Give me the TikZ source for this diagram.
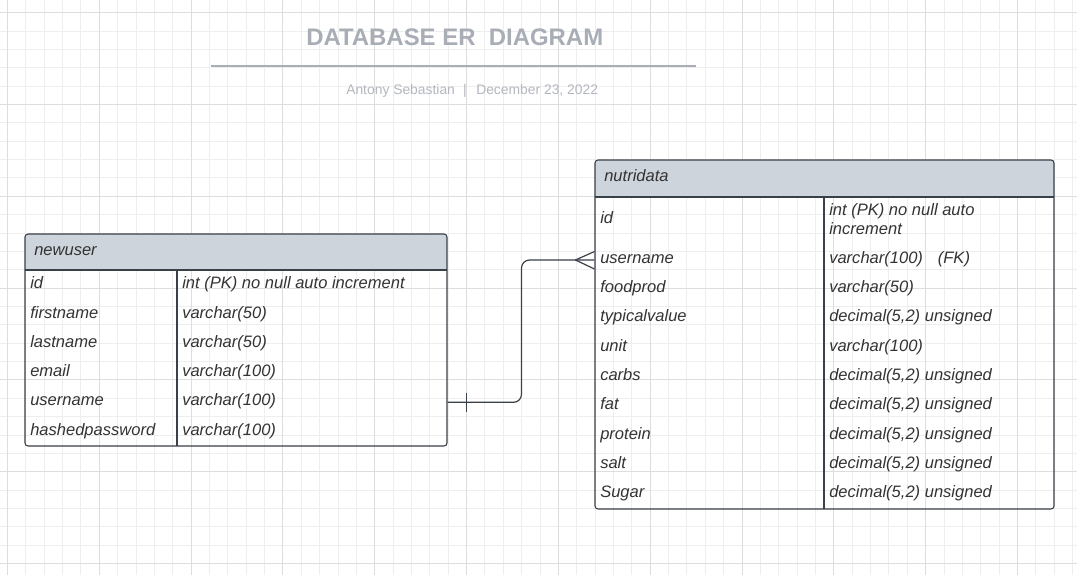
\documentclass[tikz,border=0pt]{standalone}
\usepackage{fontspec}
\setmainfont{Liberation Sans}
\usetikzlibrary{calc,fit}
\definecolor{gridminor}{HTML}{EEEEEE}
\definecolor{gridmajor}{HTML}{DDDDDD}
\definecolor{titlegray}{HTML}{A8ADB6}
\definecolor{subgray}{HTML}{B3B7BF}
\definecolor{headfill}{HTML}{CED4DB}
\definecolor{border}{HTML}{3A4048}
\definecolor{txt}{HTML}{333333}
\begin{document}
\begin{tikzpicture}[x=0.75pt,y=-0.75pt,
  cell/.style={anchor=base west, inner sep=0, text=txt, font=\fontsize{12.4}{14.25}\selectfont\itshape},
  tablebox/.style={draw=border, line width=0.8pt, rounded corners=2.25pt, inner sep=0},
  rulel/.style={draw=border, line width=0.8pt},
  conn/.style={draw=border, line width=0.9pt},
  minorl/.style={draw=gridminor, line width=0.75pt},
  majorl/.style={draw=gridmajor, line width=0.75pt},
  titletext/.style={anchor=base west, inner sep=0, text=titlegray, font=\fontsize{17.95}{20}\selectfont\bfseries},
  subtext/.style={anchor=base west, inner sep=0, text=subgray, font=\fontsize{10.4}{12}\selectfont}]
\useasboundingbox (0,0) rectangle (1077,575);
\fill[white] (0,0) rectangle (1077,575);
% grid
\foreach \i in {0,...,58}{
  \pgfmathsetmacro\gx{7.5+18.364*\i}
  \draw[minorl] (\gx,0) -- (\gx,575);
}
\foreach \i in {0,...,30}{
  \pgfmathsetmacro\gy{12.7+18.364*\i}
  \draw[minorl] (0,\gy) -- (1077,\gy);
}
\foreach \i in {0,...,11}{
  \pgfmathsetmacro\gx{7.5+91.82*\i}
  \draw[majorl] (\gx,0) -- (\gx,575);
}
\foreach \i in {0,...,6}{
  \pgfmathsetmacro\gy{12.7+91.82*\i}
  \draw[majorl] (0,\gy) -- (1077,\gy);
}
% title
\node[titletext] (title) at (306,45) {DATABASE ER~ DIAGRAM};
\draw[titlegray, line width=1.5pt] (211,66) -- (696,66);
\node[subtext] (author) at (346,94.3) {Antony Sebastian};
\node[subtext, anchor=base] (sep) at (465,94.3) {|};
\node[subtext] (date) at (476,94.3) {December 23, 2022};

% newuser table
\begin{scope}
  \clip[rounded corners=2.25pt] (25,234) rectangle (447,446);
  \fill[headfill] (25,234) rectangle (447,270);
\end{scope}
\coordinate (nuTL) at (25,234);
\coordinate (nuBR) at (447,446);
\node[tablebox, fit=(nuTL)(nuBR)] (newuser) {};
\draw[rulel] (25,270) -- (447,270);
\draw[rulel] (177,270) -- (177,446);
\node[cell] (nuHead) at (34,255) {newuser};
\node[cell] (nuId) at (30,288.5) {id};
\node[cell] (nuIdT) at (182,288.5) {int (PK) no null auto increment};
\node[cell] (nuFn) at (30,318) {firstname};
\node[cell] (nuFnT) at (182,318) {varchar(50)};
\node[cell] (nuLn) at (30,347.3) {lastname};
\node[cell] (nuLnT) at (182,347.3) {varchar(50)};
\node[cell] (nuEm) at (30,376.6) {email};
\node[cell] (nuEmT) at (182,376.6) {varchar(100)};
\node[cell] (nuUn) at (30,405.9) {username};
\node[cell] (nuUnT) at (182,405.9) {varchar(100)};
\node[cell] (nuPw) at (30,435.2) {hashedpassword};
\node[cell] (nuPwT) at (182,435.2) {varchar(100)};

% nutridata table
\begin{scope}
  \clip[rounded corners=2.25pt] (595,160) rectangle (1054,509);
  \fill[headfill] (595,160) rectangle (1054,197);
\end{scope}
\coordinate (ndTL) at (595,160);
\coordinate (ndBR) at (1054,509);
\node[tablebox, fit=(ndTL)(ndBR)] (nutridata) {};
\draw[rulel] (595,197) -- (1054,197);
\draw[rulel] (824,197) -- (824,509);
\node[cell] (ndHead) at (604,181.7) {nutridata};
\node[cell] (ndId) at (600,223.3) {id};
\node[cell, align=left] (ndIdT) at (829,234) {int (PK) no null auto\\increment};
\node[cell] (ndUn) at (600,263.3) {username};
\node[cell] (ndUnT) at (829,263.3) {varchar(100)\hspace{0.9em}(FK)};
\node[cell] (ndFp) at (600,292.6) {foodprod};
\node[cell] (ndFpT) at (829,292.6) {varchar(50)};
\node[cell] (ndTv) at (600,321.9) {typicalvalue};
\node[cell] (ndTvT) at (829,321.9) {decimal(5,2) unsigned};
\node[cell] (ndU) at (600,351.2) {unit};
\node[cell] (ndUT) at (829,351.2) {varchar(100)};
\node[cell] (ndC) at (600,380.5) {carbs};
\node[cell] (ndCT) at (829,380.5) {decimal(5,2) unsigned};
\node[cell] (ndF) at (600,409.8) {fat};
\node[cell] (ndFT) at (829,409.8) {decimal(5,2) unsigned};
\node[cell] (ndP) at (600,439.1) {protein};
\node[cell] (ndPT) at (829,439.1) {decimal(5,2) unsigned};
\node[cell] (ndS) at (600,468.4) {salt};
\node[cell] (ndST) at (829,468.4) {decimal(5,2) unsigned};
\node[cell] (ndSu) at (600,497.7) {Sugar};
\node[cell] (ndSuT) at (829,497.7) {decimal(5,2) unsigned};

% connector
\coordinate (nuPort) at (newuser.east |- 0,402.3);
\coordinate (ndPort) at (nutridata.west |- 0,260);
\coordinate (bend) at (521.5,0);
\draw[conn, rounded corners=6pt] (nuPort) -| (bend |- ndPort) -- (ndPort);
% crow's foot at nutridata
\coordinate (crow) at ($(ndPort)+(-19,0)$);
\draw[conn] (crow) -- ($(ndPort)+(0,-8.5)$);
\draw[conn] (crow) -- ($(ndPort)+(0,9)$);
% one mark at newuser
\draw[conn] ($(nuPort)+(19,-9.5)$) -- ($(nuPort)+(19,9.5)$);
\end{tikzpicture}
\end{document}
